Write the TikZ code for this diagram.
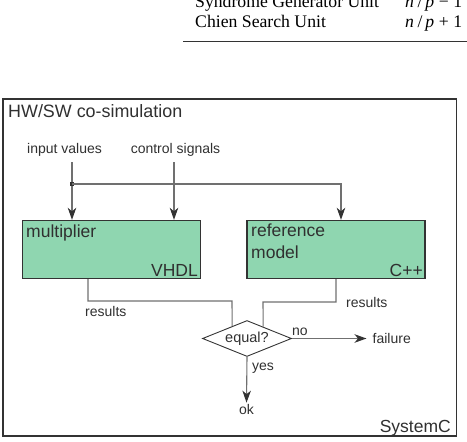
\documentclass[tikz,border=0pt]{standalone}
\usepackage{fontspec}
\setmainfont{Liberation Sans}
\newfontfamily\tabfont{Liberation Serif}
\usetikzlibrary{arrows.meta,shapes.geometric,calc}
\definecolor{boxgreen}{HTML}{8FD6B0}
\definecolor{linegray}{HTML}{707070}
\definecolor{darkline}{HTML}{333333}
\definecolor{txt}{HTML}{303030}
\tikzset{
  conn/.style={draw=linegray, line width=1.1pt},
  arr/.style={conn, -{Stealth[length=12pt,width=8.5pt,inset=3.5pt,color=darkline,fill=darkline]}},
  unit/.style={draw=darkline, line width=1.4pt, fill=boxgreen, minimum width=178pt, minimum height=58pt, inner sep=0pt},
  big/.style={font=\fontsize{17.5}{20}\selectfont, text=txt, inner sep=0pt},
  small/.style={font=\fontsize{14}{16}\selectfont, text=txt, inner sep=0pt},
  tab/.style={font=\tabfont\fontsize{17.7}{20}\selectfont, text=black, inner sep=0pt, anchor=base west},
  decide/.style={diamond, draw=darkline, line width=0.9pt, inner sep=0pt, minimum width=89pt, minimum height=36pt, aspect=2.5}
}
\begin{document}
\begin{tikzpicture}[x=1pt,y=-1pt]
\useasboundingbox (0,0) rectangle (467,442);
\clip (0,0) rectangle (467,442);
% table fragment
\node[tab] (r1) at (195,7) {Syndrome Generator Unit};
\node[tab] (r1v) at (405,7) {\itshape n\/\hspace{3.5pt}\upshape/\hspace{3pt}\itshape p\upshape\hspace{4.5pt}−\hspace{4.5pt}1};
\node[tab] (r2) at (195,27) {Chien Search Unit};
\node[tab] (r2v) at (405,27) {\itshape n\/\hspace{3.5pt}\upshape/\hspace{3pt}\itshape p\upshape\hspace{4.5pt}+\hspace{4.5pt}1};
\draw[darkline, line width=1pt] (183,41) -- (467,41);
% frame
\draw[darkline, line width=1.5pt] (3,99) rectangle (456.5,436);
\node[big, font=\fontsize{17.9}{20}\selectfont, anchor=base west] (title) at (8,117) {HW/SW co-simulation};
\node[big, anchor=base east] (sysc) at (451,432) {SystemC};
% inputs
\node[small, anchor=base] (iv) at (64.5,153) {input values};
\node[small, anchor=base] (cs) at (175.5,153) {control signals};
% units
\node[unit] (mult) at (111.5,249.5) {};
\node[unit] (ref) at (336,249.5) {};
\node[big, anchor=base west] (multl) at (26,237) {multiplier};
\node[big, anchor=base east] (vhdl) at (198,276) {VHDL};
\node[big, anchor=base west] (refl1) at (251,236) {reference};
\node[big, anchor=base west] (refl2) at (251,258) {model};
\node[big, anchor=base east] (cpp) at (423,276) {C++};
% junction
\coordinate (j) at (72,184);
\coordinate (cx) at (174,184);
\coordinate (rx) at (341,184);
\draw[arr] (j |- 0,162) -- (j |- mult.north);
\fill[darkline] ($(j)+(-2.2,-2.2)$) rectangle ($(j)+(2.2,2.2)$);
\draw[arr] (cx |- 0,162) -- (cx |- mult.north);
\draw[arr] (j) -- (rx) -- (rx |- ref.north);
% decision
\node[decide, font=\fontsize{14.5}{16}\selectfont, text=txt] (eq) at (247,338.5) {equal?};
\coordinate (ml) at (88,301);
\coordinate (mr) at (232,301);
\coordinate (rl) at (263,302);
\coordinate (rr) at (336,302);
\draw[conn] (ml |- mult.south) -- (ml) -- (mr) -- ($(eq.west)!0.67!(eq.north)$);
\draw[conn] (rr |- ref.south) -- (rr) -- (rl) -- ($(eq.north)!0.36!(eq.east)$);
\node[small, anchor=base west] (res1) at (85,316) {results};
\node[small, anchor=base west] (res2) at (346,307) {results};
% outcomes
\node[small, anchor=base west] (fail) at (372.5,343) {failure};
\node[small, anchor=base] (ok) at (246.5,414) {ok};
\draw[arr, shorten >=6pt] (eq.east) -- (eq.east -| fail.west);
\draw[arr, shorten >=1pt] (eq.south) -- (ok.north);
\node[small, anchor=base] (no) at (300,335) {no};
\node[small, anchor=base west] (yes) at (252,370) {yes};
\end{tikzpicture}
\end{document}
